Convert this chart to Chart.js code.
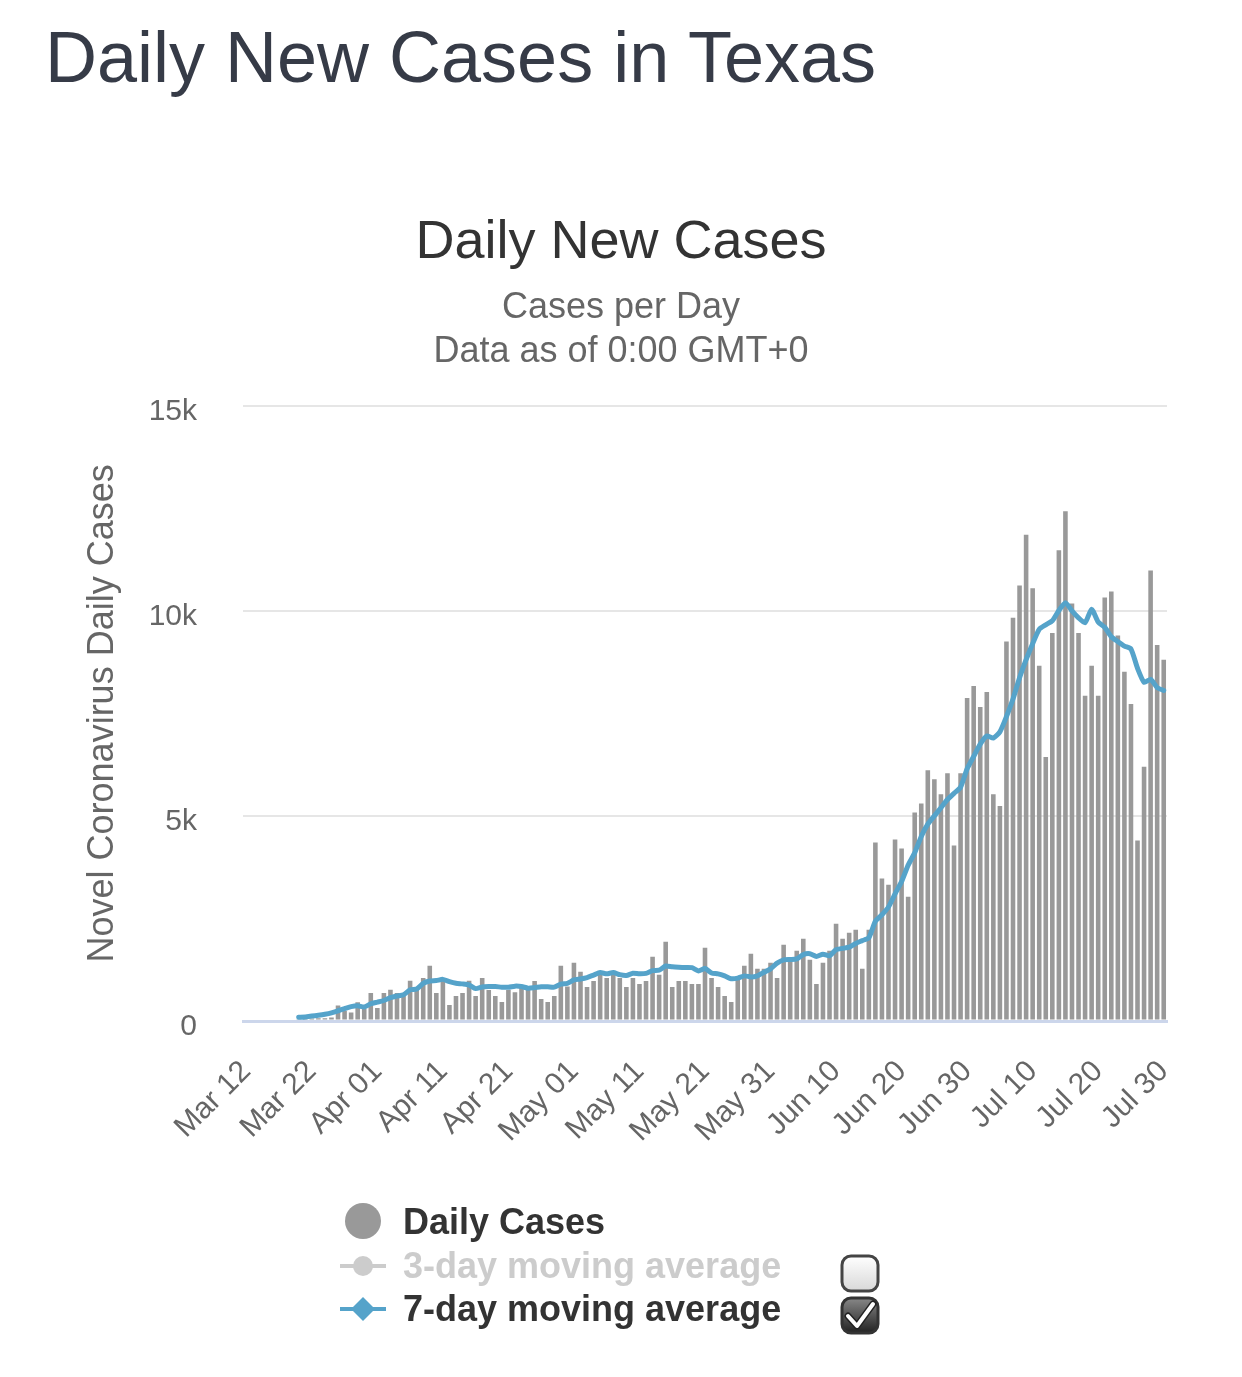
<!DOCTYPE html>
<html><head><meta charset="utf-8">
<script src="https://cdn.jsdelivr.net/npm/chart.js@4/dist/chart.umd.min.js"></script>
<style>
html,body{margin:0;padding:0;background:#fff;width:1242px;height:1377px;overflow:hidden;font-family:"Liberation Sans",Arial,Helvetica,sans-serif;}
#pageTitle{position:absolute;left:45px;top:21px;font-size:72px;line-height:1;color:#363b47;white-space:nowrap;}
#wrap{position:absolute;left:0;top:190px;width:1242px;height:1010px;}
.lg{position:absolute;left:403px;font-size:36px;font-weight:bold;line-height:1;white-space:nowrap;}
#legendSvg{position:absolute;left:0;top:0;}
</style></head><body>
<div id="pageTitle">Daily New Cases in Texas</div>
<div id="wrap"><canvas id="c" width="1242" height="1010"></canvas></div>
<svg id="legendSvg" width="1242" height="1377">
  <defs>
    <linearGradient id="gOff" x1="0" y1="0" x2="0" y2="1"><stop offset="0" stop-color="#ffffff"/><stop offset="1" stop-color="#d8d8d8"/></linearGradient>
    <linearGradient id="gOn" x1="0" y1="0" x2="0" y2="1"><stop offset="0" stop-color="#888888"/><stop offset="1" stop-color="#222222"/></linearGradient>
  </defs>
  <circle cx="363" cy="1221" r="18" fill="#999999"/>
  <line x1="340" y1="1266" x2="386" y2="1266" stroke="#cccccc" stroke-width="4"/>
  <circle cx="363" cy="1266" r="10" fill="#cccccc"/>
  <line x1="340" y1="1309" x2="386" y2="1309" stroke="#55a3ca" stroke-width="4"/>
  <path d="M363 1297 L375 1309 L363 1321 L351 1309 Z" fill="#55a3ca"/>
  <rect x="842" y="1256" width="36" height="35" rx="9" fill="url(#gOff)" stroke="#444" stroke-width="3"/>
  <rect x="842" y="1298" width="36" height="35" rx="9" fill="url(#gOn)" stroke="#333" stroke-width="3"/>
  <path d="M848 1316 L857 1326 L873 1304" fill="none" stroke="#222" stroke-width="7" stroke-linecap="round" stroke-linejoin="round"/>
  <path d="M848 1316 L857 1326 L873 1304" fill="none" stroke="#ffffff" stroke-width="4" stroke-linecap="round" stroke-linejoin="round"/>
</svg>
<div class="lg" style="top:1204px;color:#333333;">Daily Cases</div>
<div class="lg" style="top:1248px;color:#cccccc;">3-day moving average</div>
<div class="lg" style="top:1291px;color:#333333;">7-day moving average</div>
<script>
const dailyCases = [
  0, 0, 0, 0, 0, 0, 0, 0, 45, 55,
  60, 65, 70, 85, 380, 250, 210, 460, 300, 685,
  320, 685, 760, 685, 610, 980, 760, 1050, 1345, 685,
  980, 390, 610, 685, 980, 611, 1051, 758, 611, 465,
  758, 700, 840, 758, 978, 538, 465, 611, 1345, 840,
  1418, 1198, 831, 978, 1125, 1051, 1125, 1051, 831, 1051,
  905, 978, 1565, 1125, 1932, 831, 978, 978, 905, 905,
  1785, 1051, 831, 611, 465, 1000, 1345, 1638, 1271, 1271,
  1418, 1051, 1858, 1491, 1712, 2005, 1491, 905, 1418, 1712,
  2372, 2005, 2152, 2225, 1271, 2225, 4352, 3472, 3325, 4425,
  4205, 3032, 5086, 5306, 6113, 5892, 5526, 6039, 4279, 6039,
  7873, 8166, 7653, 8020, 5526, 5240, 9250, 9829, 10619, 11858,
  10554, 8663, 6439, 9462, 11475, 12429, 10179, 9462, 7930, 8663,
  7930, 10326, 10473, 9397, 8517, 7726, 4401, 6202, 10986, 9169,
  8810
];
const sevenDayAvg = [
  null, null, null, null, null, null, null, null, 90, 100,
  120, 140, 165, 200, 250, 300, 350, 370, 340, 420,
  460, 500, 570, 610, 640, 760, 780, 920, 975, 985,
  1015, 960, 920, 905, 880, 790, 830, 840, 840, 825,
  823, 850, 840, 800, 815, 835, 835, 825, 900, 920,
  1000, 1025, 1060, 1120, 1180, 1150, 1180, 1130, 1110, 1165,
  1150, 1160, 1230, 1240, 1340, 1320, 1310, 1305, 1300, 1220,
  1280, 1170, 1150, 1100, 1030, 1045, 1100, 1075, 1100, 1190,
  1270, 1410, 1490, 1500, 1516, 1620, 1640, 1575, 1630, 1590,
  1740, 1770, 1800, 1890, 1960, 2030, 2430, 2590, 2780, 3100,
  3400, 3800, 4100, 4500, 4800, 5000, 5200, 5400, 5550, 5700,
  6150, 6450, 6750, 6950, 6900, 7050, 7420, 7850, 8370, 8810,
  9200, 9550, 9660, 9760, 10010, 10200, 10000, 9830, 9710, 10040,
  9730, 9600, 9370, 9250, 9140, 9070, 8600, 8260, 8330, 8130,
  8060
];
const tickLabels = ['Mar 12','Mar 22','Apr 01','Apr 11','Apr 21','May 01','May 11','May 21','May 31','Jun 10','Jun 20','Jun 30','Jul 10','Jul 20','Jul 30'];
const monthNames = ['Jan','Feb','Mar','Apr','May','Jun','Jul','Aug','Sep','Oct','Nov','Dec'];
const categories = [];
for (let k = 0; k < dailyCases.length; k++) {
  const d = new Date(2020, 2, 12 + k);
  categories.push(monthNames[d.getMonth()] + ' ' + String(d.getDate()).padStart(2, '0'));
}
const FAM = '"Liberation Sans", Arial, Helvetica, sans-serif';
new Chart(document.getElementById('c'), {
  data: {
    labels: categories,
    datasets: [
      { type: 'line', label: '7-day moving average', data: sevenDayAvg, borderColor: '#55a3ca', borderWidth: 5, pointRadius: 0, tension: 0.2, order: 0, borderJoinStyle: 'round', borderCapStyle: 'round' },
      { type: 'bar', label: 'Daily Cases', data: dailyCases, backgroundColor: '#999999', barPercentage: 0.7, categoryPercentage: 1.0, order: 1 }
    ]
  },
  options: {
    responsive: false, animation: false, devicePixelRatio: 1,
    layout: { padding: { left: 75, right: 75, top: 0, bottom: 0 } },
    plugins: {
      legend: { display: false },
      tooltip: { enabled: false },
      title: { display: true, text: 'Daily New Cases', color: '#333333', font: { size: 54, family: FAM, weight: 'normal', lineHeight: 1.2 }, padding: { top: 21, bottom: 5 } },
      subtitle: { display: true, text: ['Cases per Day', 'Data as of 0:00 GMT+0'], color: '#666666', font: { size: 36, family: FAM, lineHeight: 1.222 }, padding: { top: 5, bottom: 32 } }
    },
    scales: {
      x: {
        grid: { display: false },
        border: { display: true, color: '#ccd6eb', width: 3 },
        ticks: {
          autoSkip: false, maxRotation: 45, minRotation: 45, color: '#666666', padding: 25,
          font: { size: 30, family: FAM },
          callback: function (v, i) { return tickLabels.includes(categories[i]) ? categories[i] : ''; }
        },
        afterFit: function (s) { s.height = 179; }
      },
      y: {
        min: 0, max: 15000,
        ticks: { stepSize: 5000, color: '#666666', padding: 46, labelOffset: 6, font: { size: 30, family: FAM },
          callback: function (v) { return v === 0 ? '0' : (v / 1000) + 'k'; } },
        grid: { color: function (c) { return c.tick && c.tick.value === 0 ? '#ccd6eb' : '#e6e6e6'; }, lineWidth: function (c) { return c.tick && c.tick.value === 0 ? 3 : 2; }, drawTicks: false },
        border: { display: false },
        title: { display: true, text: 'Novel Coronavirus Daily Cases', color: '#666666', font: { size: 36, family: FAM }, padding: { top: 6, bottom: 0 } },
        afterFit: function (s) { s.width = 168; }
      }
    }
  }
});
</script>
</body></html>
